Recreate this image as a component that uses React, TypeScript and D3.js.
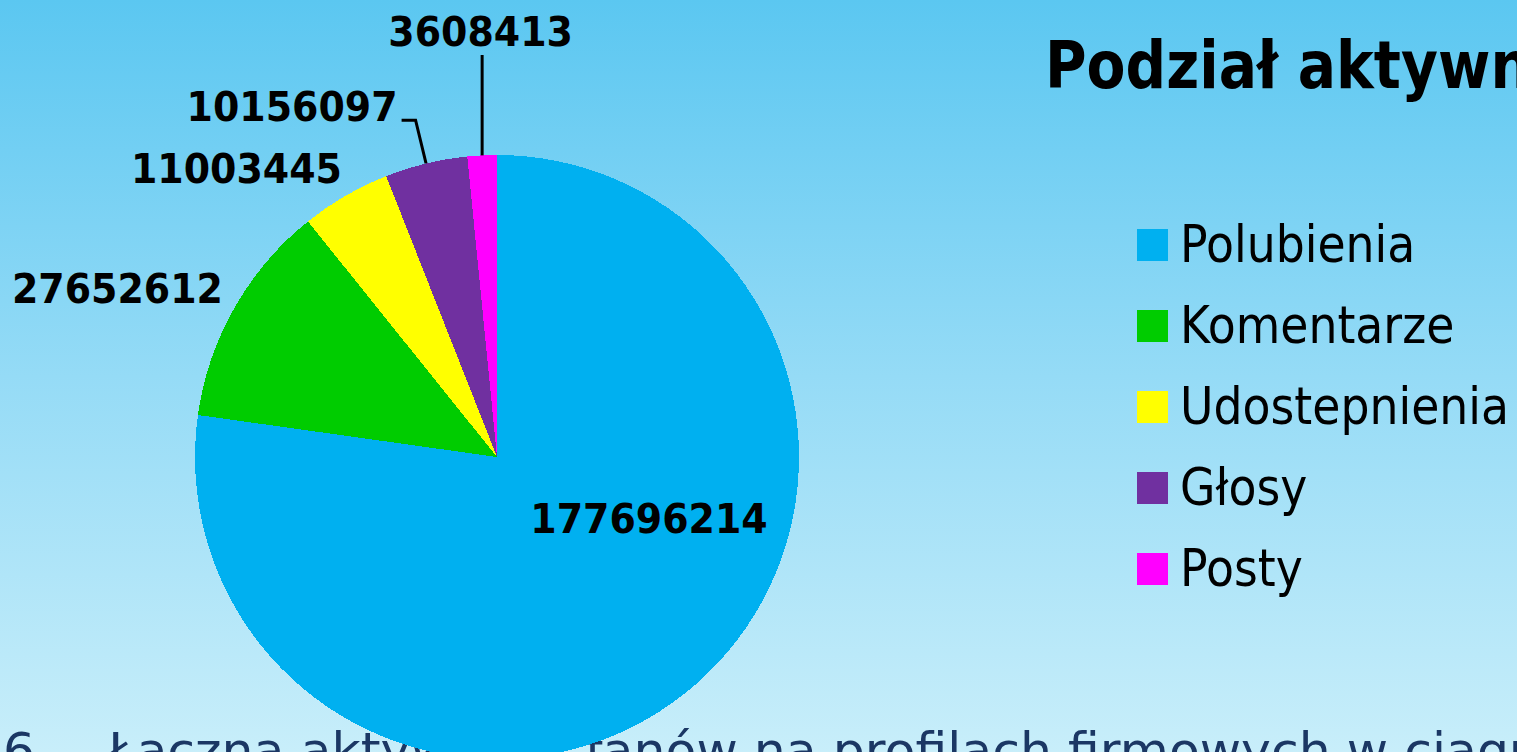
import React from "react";
import * as d3 from "d3";

const categories = ["Polubienia", "Komentarze", "Udostepnienia", "Głosy", "Posty"];
const values = [177696214, 27652612, 11003445, 10156097, 3608413];
const colors = ["#00b0f0", "#00cc00", "#ffff00", "#7030a0", "#ff00ff"];
const titleText = "Podział aktywności fanów";
const footerNumber = "6";
const footerText = "Łączna aktywność fanów na profilach firmowych w ciągu";

const W = 1517;
const H = 752;
const CX = 497;
const CY = 457;
const R = 302;

const labelLayout = [
  { kind: "free", dx: 152, dy: 76, anchor: "middle" },
  { kind: "free", dx: -274, dy: -154, anchor: "end" },
  { kind: "free", dx: -155, dy: -274, anchor: "end" },
  { kind: "elbow", elbowR: 346.5, run: 14, anchor: "end" },
  { kind: "vertical", topR: 402, anchor: "middle" },
];

const FONT = "'DejaVu Sans', Verdana, sans-serif";

export default function App() {
  const pie = d3.pie<number>().sort(null).startAngle(0).endAngle(2 * Math.PI);
  const arcs = pie(values);
  const arcGen = d3.arc<d3.PieArcDatum<number>>().innerRadius(0).outerRadius(R);
  const pt = (a: number, r: number) => [CX + r * Math.sin(a), CY - r * Math.cos(a)];

  return (
    <div style={{ position: "fixed", left: 0, top: 0, width: W, height: H, overflow: "hidden" }}>
      <svg width={W} height={H} style={{ display: "block" }}>
        <defs>
          <linearGradient id="bg" x1="0" y1="0" x2="0" y2="1">
            <stop offset="0" stopColor="#5bc7f1" />
            <stop offset="0.5" stopColor="#95dbf6" />
            <stop offset="1" stopColor="#c8eefa" />
          </linearGradient>
        </defs>
        <rect x={0} y={0} width={W} height={H} fill="url(#bg)" />

        {/* footer text (behind the pie) */}
        <g fill="#1b3764" fontFamily={FONT} fontSize={50.5}>
          <text x={3} y={768}>{footerNumber}</text>
          <text x={108} y={768}>{footerText}</text>
        </g>

        {/* title */}
        <text
          transform="translate(1045,88) scale(0.86,1)"
          fontFamily={FONT}
          fontWeight="bold"
          fontSize={66}
          fill="#000"
        >
          {titleText}
        </text>

        {/* pie */}
        <g transform={`translate(${CX},${CY})`} shapeRendering="crispEdges">
          {arcs.map((a, i) => (
            <path key={i} d={arcGen(a) || ""} fill={colors[i]} />
          ))}
        </g>

        {/* labels */}
        <g fontFamily={FONT} fontWeight="bold" fontSize={41} fill="#000">
          {arcs.map((a, i) => {
            const L = labelLayout[i];
            const mid = (a.startAngle + a.endAngle) / 2;
            const txt = String(values[i]);
            if (L.kind === "free") {
              const x = CX + (L as any).dx;
              const y = CY + (L as any).dy;
              return (
                <text key={i} transform={`translate(${x},${y}) scale(0.925,1)`} textAnchor={L.anchor}>
                  {txt}
                </text>
              );
            }
            if (L.kind === "elbow") {
              const p0 = pt(mid, R);
              const p1 = pt(mid, (L as any).elbowR);
              const p2 = [p1[0] - (L as any).run, p1[1]];
              return (
                <g key={i}>
                  <polyline
                    points={`${p0[0]},${p0[1]} ${p1[0]},${p1[1]} ${p2[0]},${p2[1]}`}
                    fill="none"
                    stroke="#000"
                    strokeWidth={3}
                  />
                  <text transform={`translate(${p2[0] - 4},${p2[1] + 1}) scale(0.925,1)`} textAnchor="end">
                    {txt}
                  </text>
                </g>
              );
            }
            const p0 = pt(mid, R);
            const top = CY - (L as any).topR;
            return (
              <g key={i}>
                <line x1={p0[0]} y1={p0[1]} x2={p0[0]} y2={top} stroke="#000" strokeWidth={3} />
                <text transform={`translate(${p0[0] - 1.5},${top - 9}) scale(0.925,1)`} textAnchor="middle">
                  {txt}
                </text>
              </g>
            );
          })}
        </g>

        {/* legend */}
        <g fontFamily={FONT} fontSize={51} fill="#000">
          {categories.map((c, i) => {
            const base = 262 + i * 81;
            return (
              <g key={c}>
                <rect x={1137} y={base - 33} width={31} height={32} fill={colors[i]} />
                <text transform={`translate(1180,${base}) scale(0.897,1)`}>{c}</text>
              </g>
            );
          })}
        </g>
      </svg>
    </div>
  );
}
